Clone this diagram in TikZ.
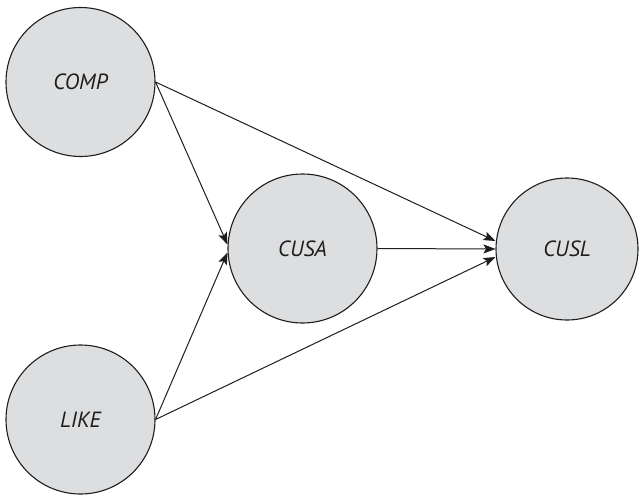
\documentclass[tikz,border=0pt]{standalone}
\usepackage{fontspec}
\setmainfont{PT Sans}
\usetikzlibrary{arrows.meta}
\definecolor{nodefill}{RGB}{221,222,224}
\definecolor{inkline}{RGB}{30,30,30}
\tikzset{
  construct/.style={circle, draw=inkline, line width=1.1pt, fill=nodefill,
    minimum size=149pt, inner sep=0pt, font=\fontsize{22}{26}\selectfont\itshape,
    text=inkline},
  link/.style={draw=inkline, line width=1pt,
    -{Stealth[length=12pt,width=9pt,inset=2.5pt]}}
}
\begin{document}
\begin{tikzpicture}[x=1pt,y=-1pt]
  \useasboundingbox (0,0) rectangle (639,495);
  % latent constructs
  \node[construct] (comp) at (80.5,82) {COMP};
  \node[construct] (like) at (80.5,419.5) {LIKE};
  \node[construct] (cusa) at (302.5,248.5) {CUSA};
  \node[construct, minimum size=142pt] (cusl) at (567,249) {CUSL};
  % arrow end points on the target circles
  \coordinate (cusaTop) at ([yshift=4pt]cusa.west);
  \coordinate (cusaBot) at ([yshift=-4pt]cusa.west);
  \coordinate (cuslTop) at ([yshift=8pt]cusl.west);
  \coordinate (cuslBot) at ([yshift=-8pt]cusl.west);
  % structural paths
  \draw[link] (comp.east) -- (cusaTop);
  \draw[link] (like.east) -- (cusaBot);
  \draw[link] (comp.east) -- (cuslTop);
  \draw[link] (cusa.east) -- (cusl.west);
  \draw[link] (like.east) -- (cuslBot);
\end{tikzpicture}
\end{document}
